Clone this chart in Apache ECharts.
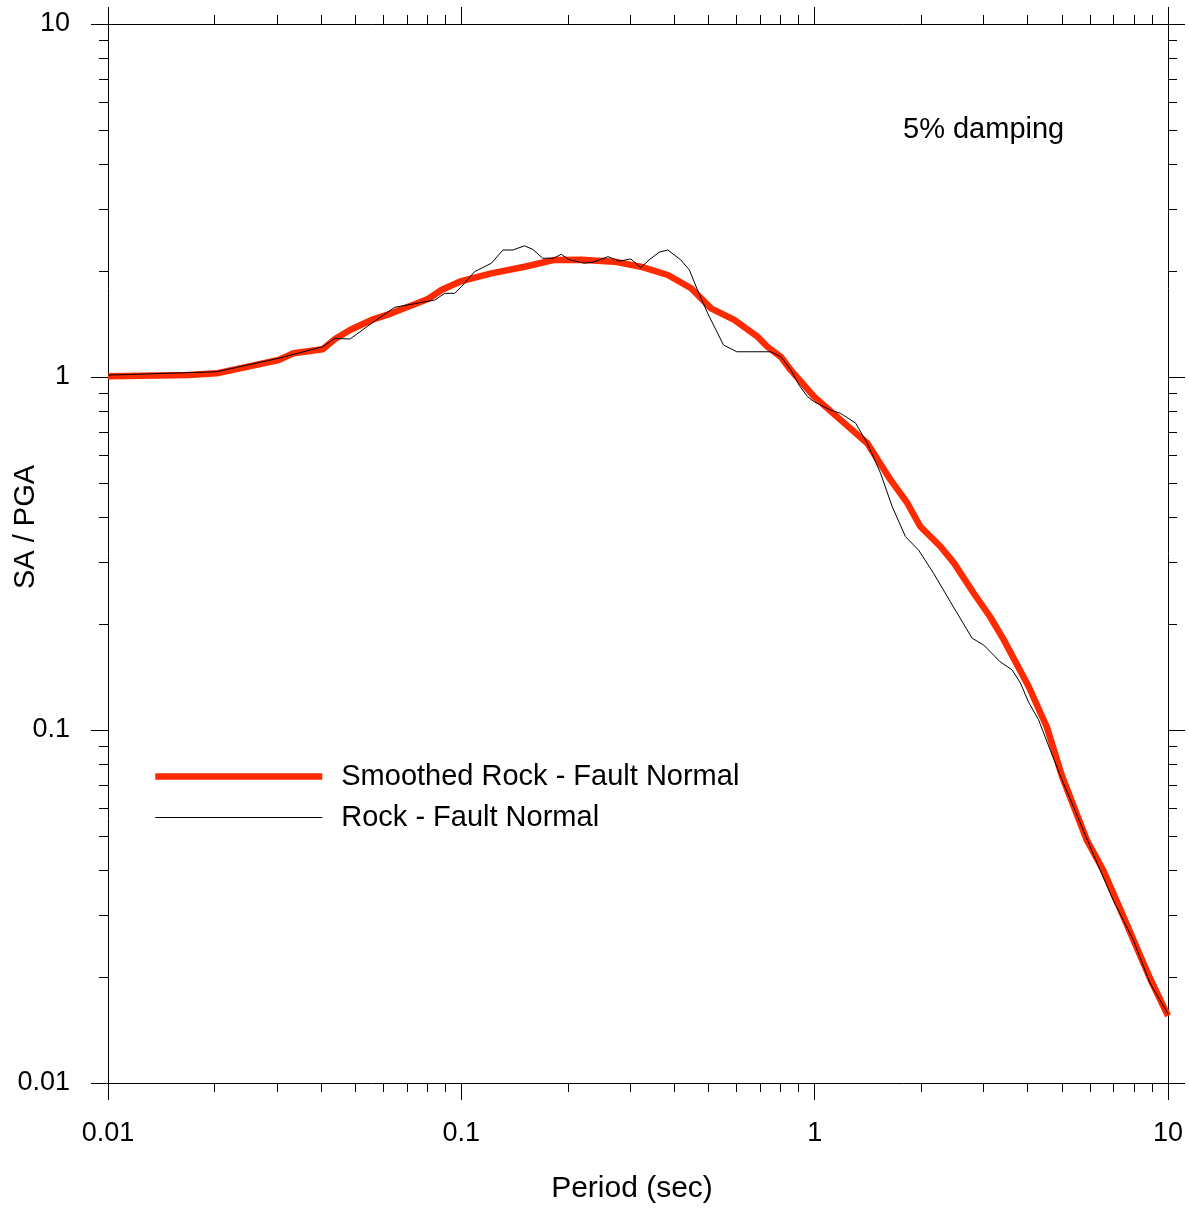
<!DOCTYPE html>
<html>
<head>
<meta charset="utf-8">
<script src="https://cdn.jsdelivr.net/npm/echarts@6/dist/echarts.min.js"></script>
<style>
  html, body { margin: 0; padding: 0; background: #fff; }
  #chart { width: 1189px; height: 1209px; }
</style>
</head>
<body>
<div id="chart"></div>
<script>
// ---- Data ----
var periodSmoothed = [0.01, 0.0169, 0.0203, 0.0304, 0.0335, 0.0405, 0.0439, 0.0484, 0.0557, 0.0634, 0.0805, 0.0878, 0.1, 0.1216, 0.151, 0.1834, 0.218, 0.271, 0.322, 0.384, 0.447, 0.509, 0.592, 0.689, 0.735, 0.802, 0.855, 0.996, 1.184, 1.409, 1.64, 1.83, 1.99, 2.27, 2.48, 2.82, 3.14, 3.43, 4.03, 4.54, 5.01, 5.89, 6.56, 7.48, 8.07, 8.89, 10];
var saSmoothed = [1.005, 1.013, 1.024, 1.117, 1.167, 1.198, 1.281, 1.359, 1.451, 1.515, 1.663, 1.764, 1.87, 1.966, 2.053, 2.146, 2.15, 2.122, 2.053, 1.945, 1.784, 1.565, 1.451, 1.301, 1.218, 1.141, 1.047, 0.88, 0.756, 0.649, 0.511, 0.439, 0.377, 0.331, 0.297, 0.244, 0.209, 0.18, 0.133, 0.102, 0.0741, 0.0488, 0.04, 0.0296, 0.0248, 0.0198, 0.0155];

var periodRock = [0.01, 0.0203, 0.0304, 0.0405, 0.0439, 0.0484, 0.0557, 0.0648, 0.0841, 0.0897, 0.0958, 0.1, 0.109, 0.1216, 0.1312, 0.14, 0.151, 0.1594, 0.17, 0.1826, 0.1916, 0.202, 0.223, 0.238, 0.26, 0.28, 0.302, 0.322, 0.34, 0.363, 0.384, 0.418, 0.442, 0.466, 0.498, 0.552, 0.602, 0.751, 0.802, 0.855, 0.903, 0.954, 0.996, 1.11, 1.184, 1.306, 1.409, 1.536, 1.658, 1.807, 1.97, 2.17, 2.42, 2.79, 3.01, 3.35, 3.62, 3.82, 4.03, 4.3, 4.64, 5.06, 5.46, 6.02, 7.0, 7.98, 8.89, 10];
var saRock = [1.012, 1.035, 1.13, 1.218, 1.287, 1.281, 1.419, 1.576, 1.652, 1.726, 1.726, 1.802, 1.988, 2.1, 2.29, 2.29, 2.353, 2.298, 2.17, 2.17, 2.227, 2.15, 2.1, 2.12, 2.193, 2.13, 2.16, 2.04, 2.146, 2.257, 2.29, 2.146, 2.01, 1.764, 1.515, 1.232, 1.179, 1.179, 1.141, 1.05, 0.949, 0.88, 0.851, 0.806, 0.789, 0.74, 0.649, 0.534, 0.429, 0.353, 0.323, 0.278, 0.231, 0.182, 0.174, 0.156, 0.148, 0.136, 0.12, 0.107, 0.0878, 0.0706, 0.0591, 0.0467, 0.0329, 0.0254, 0.0192, 0.0157];

var majorTickLabels = ['0.01', '0.1', '1', '10'];
var minorTicks = [0.02, 0.03, 0.04, 0.05, 0.06, 0.07, 0.08, 0.09,
                  0.2, 0.3, 0.4, 0.5, 0.6, 0.7, 0.8, 0.9,
                  2, 3, 4, 5, 6, 7, 8, 9];

var seriesNames = ['Smoothed Rock - Fault Normal', 'Rock - Fault Normal'];
var xTitle = 'Period (sec)';
var yTitle = 'SA / PGA';
var note = '5% damping';

// ---- Chart ----
var FONT = '"Liberation Sans", Arial, Helvetica, sans-serif';
var FS = 27;     // tick labels
var FT = 29;     // titles, legend, note
var AX = '#000';

function fmt(v) { return String(parseFloat(Number(v).toPrecision(6))); }

function logAxis(pos, showLabels, margin) {
  return {
    type: 'log', logBase: 10, min: 0.01, max: 10, position: pos,
    axisLine: { show: true, lineStyle: { color: AX, width: 1 } },
    axisTick: { show: true, inside: false, length: 17, lineStyle: { color: AX, width: 1 } },
    axisLabel: {
      show: showLabels, margin: margin, fontSize: FS, color: '#000', fontFamily: FONT,
      formatter: function (v) { var s = fmt(v); return majorTickLabels.indexOf(s) >= 0 ? s : ''; }
    },
    splitLine: { show: false },
    minorTick: { show: false }
  };
}

var xBottom = logAxis('bottom', true, 37);
xBottom.name = xTitle;
xBottom.nameLocation = 'middle';
xBottom.nameGap = 91;
xBottom.nameTextStyle = { fontSize: 30, color: '#000', fontFamily: FONT, padding: [0, 12, 0, 0] };

var chart = echarts.init(document.getElementById('chart'), null, { renderer: 'canvas' });
chart.setOption({
  animation: false,
  backgroundColor: '#fff',
  textStyle: { fontFamily: FONT },
  grid: { left: 108, right: 21, top: 24, bottom: 126, containLabel: false, show: false },
  xAxis: [xBottom, logAxis('top', false, 8)],
  yAxis: [logAxis('left', true, 38), logAxis('right', false, 8)],
  legend: {
    data: seriesNames,
    orient: 'vertical',
    left: 147, top: 757,
    itemWidth: 167, itemHeight: 14, itemGap: 12,
    itemStyle: { opacity: 0 },
    lineStyle: { width: 'inherit' },
    textStyle: { fontSize: FT, color: '#000', fontFamily: FONT, padding: [0, 0, 0, 14] },
    selectedMode: false
  },
  graphic: [
    { type: 'text', left: 903, top: 115, style: { text: note, fontSize: FT, fill: '#000', fontFamily: FONT } },
    { type: 'text', x: 26, y: 527, rotation: Math.PI / 2,
      style: { text: yTitle, fontSize: FT, fill: '#000', fontFamily: FONT, align: 'center', verticalAlign: 'middle' } }
  ],
  series: [
    {
      name: seriesNames[1], type: 'line', xAxisIndex: 0, yAxisIndex: 0,
      data: periodRock.map(function (p, i) { return [p, saRock[i]]; }),
      symbol: 'none', smooth: false, z: 3,
      lineStyle: { color: '#000', width: 1 }, itemStyle: { color: '#000' }
    },
    {
      name: seriesNames[0], type: 'line', xAxisIndex: 0, yAxisIndex: 0,
      data: periodSmoothed.map(function (p, i) { return [p, saSmoothed[i]]; }),
      symbol: 'none', smooth: false, z: 2,
      lineStyle: { color: '#ff2a00', width: 6.5 }, itemStyle: { color: '#ff2a00' }
    },
    {
      name: 'minor-ticks', type: 'custom', coordinateSystem: 'cartesian2d',
      xAxisIndex: 0, yAxisIndex: 0, clip: false, silent: true, z: 5,
      data: minorTicks.map(function (v) { return [v, v]; }),
      renderItem: function (params, api) {
        var v = api.value(0);
        var L = 9;
        var b = api.coord([v, 0.01]), t = api.coord([v, 10]);
        var l = api.coord([0.01, v]), r = api.coord([10, v]);
        var xs = Math.round(b[0]) + 0.5, ys = Math.round(l[1]) + 0.5;
        var st = { stroke: AX, lineWidth: 1 };
        return {
          type: 'group',
          children: [
            { type: 'line', shape: { x1: xs, y1: b[1], x2: xs, y2: b[1] + L }, style: st },
            { type: 'line', shape: { x1: xs, y1: t[1], x2: xs, y2: t[1] - L }, style: st },
            { type: 'line', shape: { x1: l[0], y1: ys, x2: l[0] - L, y2: ys }, style: st },
            { type: 'line', shape: { x1: r[0], y1: ys, x2: r[0] + L, y2: ys }, style: st }
          ]
        };
      }
    }
  ]
});
</script>
</body>
</html>
